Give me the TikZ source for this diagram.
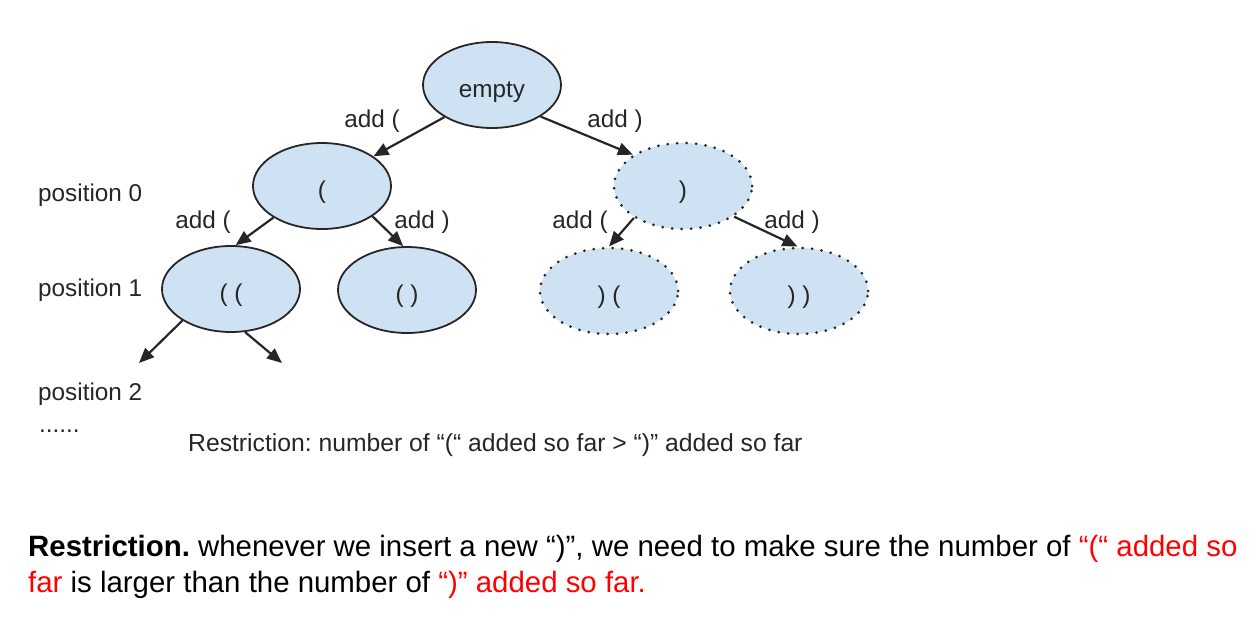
\documentclass[tikz,border=0pt]{standalone}
\usepackage{fontspec}
\setmainfont{Liberation Sans}
\usetikzlibrary{arrows.meta, positioning, shapes.geometric}
\definecolor{bubblue}{HTML}{CFE2F3}
\definecolor{inkgray}{HTML}{262626}
\frenchspacing

\begin{document}
\begin{tikzpicture}[
  x=1pt, y=-1pt, on grid,
  lbl/.style={font=\fontsize{24.3}{29}\selectfont, text=inkgray, inner sep=0pt},
  bub/.style={lbl, ellipse, draw=inkgray, line width=1.8pt, fill=bubblue,
              minimum width=138pt, minimum height=86pt, text height=24pt, text depth=0pt},
  dbub/.style={bub, line width=3pt, line cap=round, dash pattern=on 0pt off 9.5pt},
  note/.style={font=\fontsize{29.4}{36}\selectfont, anchor=base west, inner sep=0pt},
  arr/.style={-{Triangle[length=15pt, width=12.5pt]}, line width=2.2pt, draw=inkgray, fill=inkgray}
]
\useasboundingbox (0,0) rectangle (1252,624);
\node[bub] (root) at (492,85) {empty};
\node[bub, below left=101pt and 170pt of root] (L) {(};
\node[dbub, below right=101pt and 191pt of root] (R) {)};
\node[bub, below left=103pt and 91pt of L] (LL) {( (};
\node[bub, below right=104pt and 85pt of L] (LR) {( )};
\node[dbub, below left=105pt and 74pt of R] (RL) {) (};
\node[dbub, below right=105pt and 116pt of R] (RR) {) )};
\coordinate (LLa) at (139,363);
\coordinate (LLb) at (282,363);
\foreach \x/\y in {root.214/L.30, root.-33/R.148, L.213/LL.84, L.-31/LR.95,
                   R.213/RL.90, R.-31/RR.92, LL.213/LLa, LL.-72/LLb}
  \draw[arr] (\x) -- (\y);
\node[lbl] (addL) at (372,121) {add (};
\node[lbl] (addR) at (615,121) {add )};
\node[lbl] (addLL) at (203,222) {add (};
\node[lbl] (addLR) at (422,222) {add )};
\node[lbl] (addRL) at (580,222) {add (};
\node[lbl] (addRR) at (792,222) {add )};
\node[lbl, anchor=west] (pos0) at (38,195) {position 0};
\node[lbl, anchor=west] (pos1) at (38,290) {position 1};
\node[lbl, anchor=west] (pos2) at (38,394) {position 2};
\node[lbl, anchor=base west] (more) at (39,432) {......};
\node[lbl, anchor=west, font=\fontsize{24.7}{29}\selectfont] (rule) at (188,445)
  {Restriction: number of “(“ added so far > “)” added so far};
\node[note] (note1) at (28,556) {\textbf{Restriction.} whenever we insert a new “)”, we need to make sure the number of \textcolor{red}{“(“ added so}};
\node[note] (note2) at (28,592) {\textcolor{red}{far} is larger than the number of \textcolor{red}{“)” added so far.}};
\end{tikzpicture}
\end{document}
